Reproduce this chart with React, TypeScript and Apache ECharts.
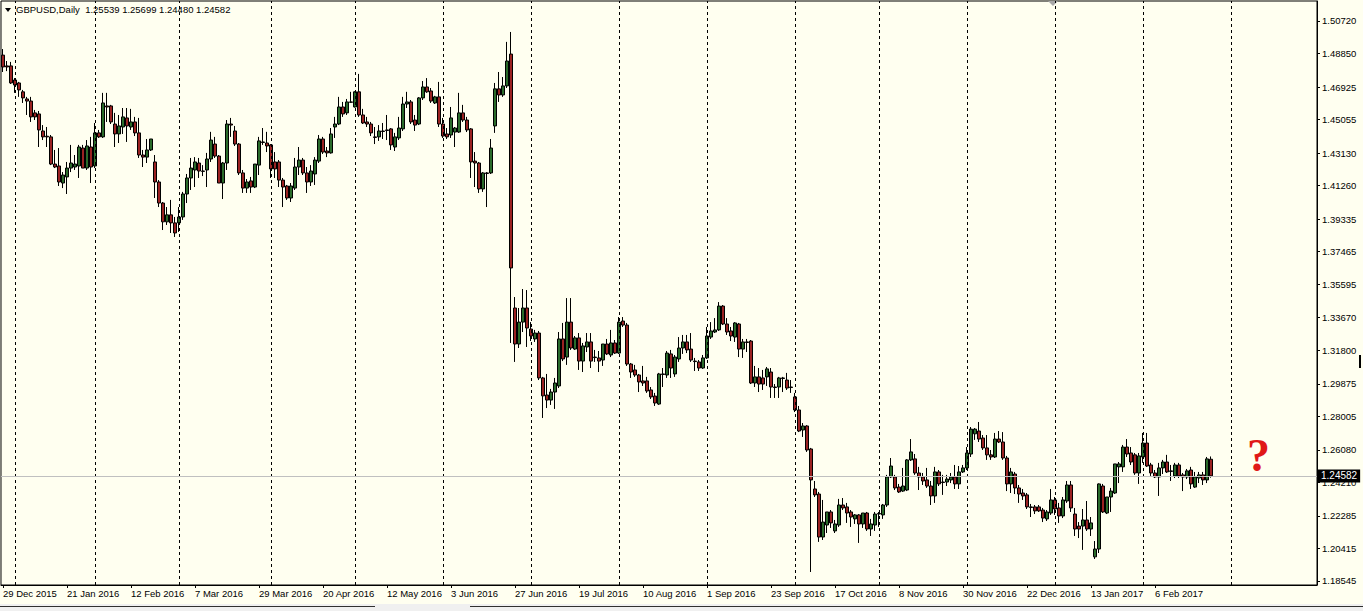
import React, { useEffect, useRef } from "react";
import * as echarts from "echarts";

const opens = [
1.4876,1.4814,1.4814,1.4733,1.4716,1.4665,1.4624,1.4612,1.4544,1.4538,
1.4440,1.4410,1.4406,1.4250,1.4239,1.4141,1.4176,1.4227,1.4233,1.4239,
1.4342,1.4227,1.4348,1.4239,1.4429,1.4406,1.4584,1.4584,1.4480,1.4423,
1.4463,1.4515,1.4463,1.4492,1.4429,1.4302,1.4290,1.4331,1.4262,1.4147,
1.4026,1.3918,1.3958,1.3912,1.3912,1.3946,1.4078,1.4170,1.4216,1.4256,
1.4210,1.4216,1.4279,1.4365,1.4296,1.4141,1.4256,1.4480,1.4440,1.4365,
1.4199,1.4112,1.4153,1.4118,1.4244,1.4377,1.4371,1.4360,1.4262,1.4262,
1.4158,1.4124,1.4055,1.4112,1.4233,1.4273,1.4199,1.4147,1.4193,1.4267,
1.4394,1.4325,1.4314,1.4463,1.4480,1.4578,1.4544,1.4607,1.4578,1.4665,
1.4532,1.4492,1.4480,1.4406,1.4406,1.4440,1.4446,1.4452,1.4348,1.4400,
1.4452,1.4595,1.4607,1.4503,1.4480,1.4630,1.4693,1.4670,1.4601,1.4636,
1.4480,1.4423,1.4417,1.4434,1.4434,1.4544,1.4503,1.4452,1.4267,1.4256,
1.4107,1.4199,1.4199,1.4469,1.4682,1.4647,1.4699,1.4882,1.3423,1.3216,
1.3342,1.3423,1.3302,1.3245,1.3279,1.3021,1.2923,1.2894,1.2940,1.2975,
1.3245,1.3141,1.3342,1.3187,1.3251,1.3118,1.3199,1.3228,1.3141,1.3136,
1.3124,1.3216,1.3153,1.3222,1.3164,1.3348,1.3325,1.3101,1.3067,1.3038,
1.3004,1.3004,1.2952,1.2917,1.2871,1.3044,1.3038,1.3159,1.3044,1.3130,
1.3193,1.3228,1.3187,1.3118,1.3113,1.3078,1.3136,1.3256,1.3285,1.3297,
1.3434,1.3331,1.3291,1.3256,1.3331,1.3187,1.3228,1.3233,1.2992,1.3027,
1.3021,1.3027,1.3055,1.2969,1.2969,1.3021,1.3009,1.2969,1.2912,1.2837,
1.2722,1.2745,1.2613,1.2383,1.2354,1.2107,1.2176,1.2251,1.2142,1.2176,
1.2291,1.2280,1.2251,1.2211,1.2234,1.2182,1.2245,1.2153,1.2176,1.2239,
1.2234,1.2291,1.2452,1.2452,1.2394,1.2371,1.2377,1.2550,1.2556,1.2475,
1.2452,1.2435,1.2400,1.2343,1.2481,1.2423,1.2423,1.2435,1.2452,1.2412,
1.2481,1.2504,1.2584,1.2700,1.2716,1.2676,1.2619,1.2579,1.2567,1.2670,
1.2653,1.2561,1.2412,1.2469,1.2389,1.2360,1.2349,1.2280,1.2280,1.2280,
1.2262,1.2211,1.2245,1.2320,1.2274,1.2228,1.2314,1.2406,1.2239,1.2170,
1.2170,1.2205,1.2153,1.1993,1.2038,1.2400,1.2245,1.2337,1.2360,1.2510,
1.2510,1.2624,1.2590,1.2579,1.2475,1.2567,1.2647,1.2521,1.2475,1.2452,
1.2504,1.2538,1.2487,1.2458,1.2521,1.2464,1.2452,1.2492,1.2394,1.2446,
1.2464,1.2435,1.25539
];

const highs = [
1.4911,1.4842,1.4837,1.4744,1.4722,1.4676,1.4636,1.4636,1.4561,1.4555,
1.4474,1.4463,1.4417,1.4331,1.4342,1.4204,1.4262,1.4360,1.4302,1.4360,
1.4360,1.4388,1.4406,1.4486,1.4446,1.4659,1.4659,1.4590,1.4544,1.4532,
1.4572,1.4572,1.4567,1.4521,1.4515,1.4331,1.4394,1.4394,1.4302,1.4158,
1.4032,1.4003,1.4044,1.3946,1.4003,1.4090,1.4193,1.4285,1.4290,1.4285,
1.4244,1.4314,1.4435,1.4406,1.4302,1.4262,1.4503,1.4515,1.4469,1.4371,
1.4216,1.4164,1.4176,1.4250,1.4406,1.4457,1.4435,1.4365,1.4319,1.4273,
1.4170,1.4130,1.4141,1.4285,1.4348,1.4285,1.4233,1.4244,1.4290,1.4417,
1.4406,1.4348,1.4457,1.4521,1.4636,1.4607,1.4624,1.4665,1.4668,1.4768,
1.4567,1.4521,1.4492,1.4463,1.4474,1.4486,1.4532,1.4457,1.4429,1.4521,
1.4636,1.4665,1.4618,1.4532,1.4635,1.4727,1.4744,1.4687,1.4642,1.4722,
1.4515,1.4457,1.4578,1.4463,1.4659,1.4590,1.4521,1.4457,1.4319,1.4262,
1.4204,1.4204,1.4394,1.4716,1.4779,1.4750,1.4952,1.5009,1.3486,1.3423,
1.3532,1.3526,1.3342,1.3297,1.3291,1.3027,1.3044,1.2958,1.3021,1.3285,
1.3337,1.3480,1.3480,1.3262,1.3279,1.3222,1.3279,1.3279,1.3182,1.3176,
1.3216,1.3245,1.3297,1.3239,1.3371,1.3371,1.3337,1.3107,1.3096,1.3044,
1.3090,1.3027,1.2969,1.2935,1.3050,1.3078,1.3176,1.3182,1.3153,1.3256,
1.3268,1.3268,1.3279,1.3136,1.3124,1.3153,1.3314,1.3342,1.3365,1.3457,
1.3440,1.3365,1.3314,1.3342,1.3337,1.3245,1.3245,1.3239,1.3090,1.3078,
1.3067,1.3084,1.3078,1.2986,1.3027,1.3027,1.3050,1.3009,1.2935,1.2860,
1.2762,1.2750,1.2619,1.2429,1.2366,1.2320,1.2251,1.2262,1.2205,1.2326,
1.2331,1.2303,1.2262,1.2239,1.2239,1.2245,1.2251,1.2211,1.2251,1.2251,
1.2297,1.2464,1.2561,1.2464,1.2412,1.2504,1.2555,1.2670,1.2584,1.2510,
1.2475,1.2504,1.2429,1.2510,1.2492,1.2464,1.2464,1.2475,1.2521,1.2515,
1.2521,1.2624,1.2739,1.2733,1.2768,1.2693,1.2693,1.2607,1.2705,1.2716,
1.2710,1.2573,1.2504,1.2481,1.2406,1.2383,1.2360,1.2297,1.2291,1.2291,
1.2274,1.2262,1.2383,1.2337,1.2303,1.2337,1.2429,1.2429,1.2274,1.2193,
1.2268,1.2314,1.2222,1.2084,1.2415,1.2412,1.2337,1.2389,1.2527,1.2538,
1.2636,1.2670,1.2624,1.2590,1.2590,1.2705,1.2705,1.2533,1.2492,1.2533,
1.2550,1.2579,1.2521,1.2533,1.2533,1.2475,1.2498,1.2510,1.2481,1.2481,
1.2481,1.2567,1.25699
];

const lows = [
1.4779,1.4784,1.4710,1.4659,1.4636,1.4601,1.4532,1.4492,1.4503,1.4348,
1.4388,1.4348,1.4244,1.4227,1.4124,1.4112,1.4078,1.4204,1.4216,1.4170,
1.4227,1.4216,1.4141,1.4227,1.4400,1.4400,1.4492,1.4480,1.4348,1.4371,
1.4423,1.4377,1.4446,1.4411,1.4285,1.4233,1.4256,1.4325,1.4055,1.4003,
1.3871,1.3900,1.3854,1.3831,1.3860,1.3929,1.4026,1.4101,1.4118,1.4170,
1.4181,1.4118,1.4262,1.4285,1.4141,1.4049,1.4216,1.4406,1.4354,1.4187,
1.4084,1.4084,1.4084,1.4112,1.4187,1.4360,1.4319,1.4170,1.4170,1.4118,
1.4003,1.4044,1.4032,1.4101,1.4187,1.4187,1.4084,1.4124,1.4130,1.4256,
1.4308,1.4290,1.4310,1.4400,1.4474,1.4521,1.4532,1.4601,1.4575,1.4521,
1.4480,1.4463,1.4411,1.4365,1.4383,1.4394,1.4388,1.4331,1.4325,1.4388,
1.4440,1.4572,1.4480,1.4440,1.4474,1.4618,1.4659,1.4601,1.4595,1.4463,
1.4400,1.4394,1.4400,1.4348,1.4429,1.4492,1.4434,1.4170,1.4118,1.4084,
1.4090,1.4003,1.4193,1.4429,1.4607,1.4636,1.4687,1.3222,1.3113,1.3193,
1.3285,1.3199,1.3233,1.3228,1.3009,1.2791,1.2848,1.2866,1.2843,1.2963,
1.3118,1.3096,1.3182,1.3182,1.3067,1.3055,1.3170,1.3078,1.3113,1.3055,
1.3090,1.3153,1.3141,1.3159,1.3159,1.3314,1.3090,1.3021,1.3027,1.2940,
1.2975,1.2935,1.2900,1.2860,1.2866,1.2969,1.3021,1.3021,1.3027,1.3113,
1.3159,1.3164,1.3113,1.3061,1.3061,1.3073,1.3130,1.3245,1.3279,1.3291,
1.3325,1.3268,1.3233,1.3228,1.3141,1.3136,1.3170,1.2986,1.2969,1.2940,
1.2952,1.2975,1.2906,1.2906,1.2906,1.2940,1.2952,1.2935,1.2825,1.2710,
1.2682,1.2596,1.1906,1.2337,1.2079,1.2090,1.2130,1.2159,1.2130,1.2165,
1.2262,1.2188,1.2165,1.2182,1.2073,1.2159,1.2142,1.2113,1.2142,1.2165,
1.2211,1.2280,1.2446,1.2377,1.2360,1.2366,1.2371,1.2544,1.2464,1.2377,
1.2406,1.2389,1.2291,1.2303,1.2400,1.2349,1.2400,1.2417,1.2383,1.2383,
1.2475,1.2492,1.2567,1.2665,1.2653,1.2607,1.2550,1.2550,1.2561,1.2647,
1.2550,1.2371,1.2360,1.2354,1.2303,1.2320,1.2268,1.2222,1.2239,1.2251,
1.2193,1.2199,1.2234,1.2234,1.2188,1.2216,1.2303,1.2251,1.2113,1.2101,
1.2033,1.2142,1.2113,1.1981,1.2015,1.2245,1.2239,1.2251,1.2354,1.2417,
1.2481,1.2567,1.2521,1.2464,1.2412,1.2533,1.2510,1.2458,1.2446,1.2343,
1.2469,1.2475,1.2429,1.2446,1.2446,1.2371,1.2440,1.2383,1.2389,1.2417,
1.2406,1.2417,1.24480
];

const closes = [
1.4808,1.4808,1.4716,1.4704,1.4676,1.4630,1.4612,1.4521,1.4521,1.4446,
1.4406,1.4406,1.4250,1.4233,1.4147,1.4187,1.4227,1.4256,1.4250,1.4348,
1.4227,1.4354,1.4233,1.4429,1.4406,1.4601,1.4578,1.4492,1.4423,1.4469,
1.4521,1.4469,1.4492,1.4429,1.4302,1.4290,1.4331,1.4394,1.4147,1.4026,
1.3918,1.3958,1.3912,1.3854,1.3946,1.4078,1.4170,1.4227,1.4262,1.4210,
1.4208,1.4279,1.4388,1.4296,1.4141,1.4256,1.4480,1.4474,1.4365,1.4199,
1.4112,1.4147,1.4118,1.4250,1.4383,1.4374,1.4354,1.4222,1.4222,1.4158,
1.4118,1.4055,1.4124,1.4233,1.4273,1.4199,1.4147,1.4210,1.4273,1.4394,
1.4319,1.4314,1.4423,1.4480,1.4578,1.4538,1.4607,1.4605,1.4665,1.4532,
1.4486,1.4480,1.4429,1.4403,1.4440,1.4437,1.4443,1.4360,1.4406,1.4457,
1.4595,1.4607,1.4492,1.4474,1.4630,1.4693,1.4665,1.4612,1.4636,1.4480,
1.4411,1.4406,1.4515,1.4457,1.4544,1.4503,1.4446,1.4262,1.4256,1.4107,
1.4199,1.4196,1.4342,1.4682,1.4647,1.4699,1.4842,1.3653,1.3216,1.3342,
1.3423,1.3308,1.3262,1.3279,1.3021,1.2918,1.2894,1.2940,1.2992,1.3245,
1.3130,1.3342,1.3193,1.3251,1.3118,1.3205,1.3228,1.3118,1.3138,1.3118,
1.3216,1.3159,1.3222,1.3164,1.3342,1.3325,1.3101,1.3055,1.3038,1.2998,
1.2992,1.2946,1.2912,1.2877,1.3044,1.3041,1.3164,1.3078,1.3141,1.3193,
1.3228,1.3182,1.3124,1.3115,1.3078,1.3136,1.3262,1.3291,1.3297,1.3434,
1.3331,1.3285,1.3262,1.3337,1.3187,1.3228,1.3225,1.2992,1.3027,1.2986,
1.2986,1.3073,1.2969,1.2966,1.3021,1.3018,1.2963,1.2966,1.2837,1.2716,
1.2745,1.2607,1.2435,1.2349,1.2107,1.2193,1.2251,1.2188,1.2182,1.2291,
1.2274,1.2245,1.2222,1.2234,1.2182,1.2245,1.2153,1.2182,1.2239,1.2242,
1.2291,1.2452,1.2515,1.2389,1.2366,1.2400,1.2550,1.2596,1.2475,1.2452,
1.2429,1.2400,1.2343,1.2481,1.2412,1.2420,1.2440,1.2452,1.2412,1.2481,
1.2504,1.2590,1.2727,1.2727,1.2670,1.2619,1.2579,1.2567,1.2670,1.2653,
1.2561,1.2412,1.2481,1.2389,1.2354,1.2343,1.2280,1.2277,1.2257,1.2257,
1.2216,1.2251,1.2320,1.2268,1.2228,1.2320,1.2406,1.2274,1.2153,1.2153,
1.2205,1.2153,1.2188,1.2038,1.2412,1.2251,1.2337,1.2371,1.2527,1.2527,
1.2624,1.2584,1.2538,1.2475,1.2573,1.2647,1.2515,1.2475,1.2452,1.2504,
1.2538,1.2481,1.2484,1.2521,1.2458,1.2452,1.2487,1.2412,1.2452,1.2464,
1.2435,1.2556,1.24582
];

const xTickLabels = [
  "29 Dec 2015", "21 Jan 2016", "12 Feb 2016", "7 Mar 2016", "29 Mar 2016",
  "20 Apr 2016", "12 May 2016", "3 Jun 2016", "27 Jun 2016", "19 Jul 2016",
  "10 Aug 2016", "1 Sep 2016", "23 Sep 2016", "17 Oct 2016", "8 Nov 2016",
  "30 Nov 2016", "22 Dec 2016", "13 Jan 2017", "6 Feb 2017"
];
const LABEL_EVERY = 16;

const monthStarts = [3, 23, 44, 67, 88, 110, 132, 154, 176, 198, 219, 241, 263, 285, 307];

const yTicks = [
  1.50720, 1.48850, 1.46925, 1.45055, 1.43130, 1.41260, 1.39335, 1.37465, 1.35595,
  1.33670, 1.31800, 1.29875, 1.28005, 1.26080, 1.24210, 1.22285, 1.20415, 1.18545
];
const Y_MIN = 1.18313;
const Y_MAX = 1.51869;
const TOTAL_SLOTS = 329;

const SYMBOL = "GBPUSD,Daily";

export default function App() {
  const ref = useRef<HTMLDivElement>(null);
  useEffect(() => {
    document.body.style.margin = "0";
    const chart = echarts.init(ref.current!, null, { renderer: "svg" });
    const cats = Array.from({ length: TOTAL_SLOTS }, (_, i) => String(i));
    const data = opens.map((o, i) => [o, closes[i], lows[i], highs[i]]);
    const last = opens.length - 1;
    const f5 = (v: number) => v.toFixed(5);
    const font = "Liberation Sans";
    const showIdx = (idx: number) =>
      idx % LABEL_EVERY === 0 && idx / LABEL_EVERY < xTickLabels.length;

    const markData: any[] = monthStarts.map((m) => ({
      xAxis: String(m),
      lineStyle: { color: "#000", type: [3, 3], width: 1 },
      label: { show: false },
    }));
    markData.push({
      yAxis: closes[last],
      lineStyle: { color: "#C0C0C0", type: "solid", width: 1 },
      label: {
        show: true,
        position: "end",
        distance: 1,
        formatter: f5(closes[last]),
        backgroundColor: "#000",
        color: "#fff",
        fontFamily: font,
        fontSize: 10,
        padding: [2, 3, 1, 3],
      },
    });

    const option: any = {
      animation: false,
      backgroundColor: "#FFFFF0",
      grid: {
        left: 0,
        right: 46,
        top: 1,
        bottom: 26,
        show: true,
        borderColor: "#000",
        borderWidth: 1,
        backgroundColor: "transparent",
      },
      xAxis: {
        type: "category",
        data: cats,
        boundaryGap: true,
        axisLine: { show: true, lineStyle: { color: "#000" } },
        axisTick: {
          show: true,
          interval: (idx: number) => showIdx(idx),
          alignWithLabel: true,
          length: 3,
          lineStyle: { color: "#000" },
        },
        axisLabel: {
          interval: (idx: number) => showIdx(idx),
          formatter: (_v: string, idx: number) => xTickLabels[idx / LABEL_EVERY] ?? "",
          align: "left",
          margin: 3,
          color: "#000",
          fontFamily: font,
          fontSize: 9.5,
        },
        splitLine: { show: false },
      },
      yAxis: {
        type: "value",
        position: "right",
        min: Y_MIN,
        max: Y_MAX,
        scale: true,
        axisLine: { show: true, lineStyle: { color: "#000" } },
        axisTick: {
          show: true,
          length: 3,
          customValues: yTicks,
          lineStyle: { color: "#000" },
        },
        axisLabel: {
          customValues: yTicks,
          formatter: (v: number) => f5(v),
          margin: 5,
          color: "#000",
          fontFamily: font,
          fontSize: 9.5,
        },
        splitLine: { show: false },
      },
      series: [
        {
          type: "candlestick",
          data,
          barWidth: 3,
          itemStyle: {
            color: "#2A6B2A",
            color0: "#9B2222",
            borderColor: "#000",
            borderColor0: "#000",
            borderColorDoji: "#000",
            borderWidth: 1,
          },
          markLine: {
            silent: true,
            precision: 5,
            symbol: ["none", "none"],
            animation: false,
            data: markData,
          },
        },
      ],
      graphic: [
        {
          type: "polygon",
          shape: { points: [[5, 8], [11, 8], [8, 12]] },
          style: { fill: "#000" },
        },
        {
          type: "text",
          left: 16,
          top: 4,
          style: {
            text: `${SYMBOL}  ${f5(opens[last])} ${f5(highs[last])} ${f5(lows[last])} ${f5(closes[last])}`,
            fill: "#000",
            fontFamily: font,
            fontSize: 9.5,
          },
        },
        {
          type: "polygon",
          shape: { points: [[1048, 1], [1058, 1], [1053, 6]] },
          style: { fill: "#A8A8A8" },
        },
        {
          type: "text",
          left: 1247,
          top: 432,
          style: {
            text: "?",
            fill: "#E01818",
            fontFamily: "Liberation Serif",
            fontWeight: "bold",
            fontSize: 46,
          },
        },
        {
          type: "rect",
          shape: { x: 1359, y: 355, width: 2, height: 13 },
          style: { fill: "#000" },
        },
        {
          type: "rect",
          shape: { x: 0, y: 604, width: 1363, height: 7 },
          style: { fill: "#F0F0F0" },
        },
        {
          type: "line",
          shape: { x1: 0, y1: 606.5, x2: 375, y2: 606.5 },
          style: { stroke: "#303030", lineWidth: 1 },
        },
        {
          type: "line",
          shape: { x1: 470, y1: 606.5, x2: 1363, y2: 606.5 },
          style: { stroke: "#303030", lineWidth: 1 },
        },
      ],
    };
    chart.setOption(option);
    return () => chart.dispose();
  }, []);
  return <div ref={ref} style={{ width: 1363, height: 611 }} />;
}
